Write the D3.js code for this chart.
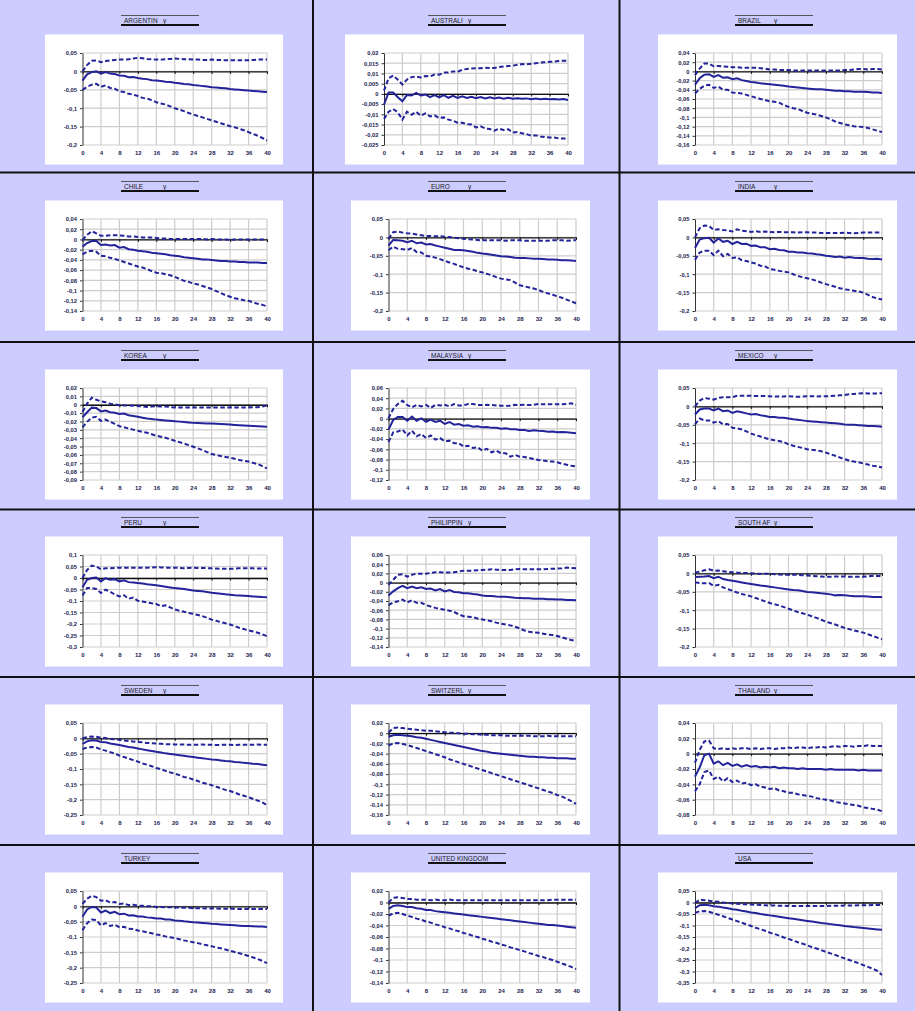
<!DOCTYPE html>
<html>
<head>
<meta charset="utf-8">
<script src="https://cdn.jsdelivr.net/npm/d3@7"></script>
<style>
  html, body { margin: 0; padding: 0; background: #ccccff; }
  svg { display: block; }
  .tick text { font-family: "Liberation Sans", Arial, sans-serif; }
</style>
</head>
<body>
<svg id="chart" width="915" height="1011"></svg>
<script>
// Impulse responses of output (y), horizons 0..40 quarters: median and 68% bands
const horizons = d3.range(0, 41);
const xTickValues = [0, 4, 8, 12, 16, 20, 24, 28, 32, 36, 40];

const countryNames = ["ARGENTIN", "AUSTRALI", "BRAZIL", "CHILE", "EURO", "INDIA",
  "KOREA", "MALAYSIA", "MEXICO", "PERU", "PHILIPPIN", "SOUTH AF",
  "SWEDEN", "SWITZERL", "THAILAND", "TURKEY", "UNITED KINGDOM", "USA"];
const variableLabels = ["y", "y", "y", "y", "y", "y", "y", "y", "y", "y", "y", "y",
  "y", "y", "y", "", "", ""];

// y-axis tick values per panel
const argentinaTicks = [0.05, 0, -0.05, -0.1, -0.15, -0.2];
const australiaTicks = [0.02, 0.015, 0.01, 0.005, 0, -0.005, -0.01, -0.015, -0.02, -0.025];
const brazilTicks = [0.04, 0.02, 0, -0.02, -0.04, -0.06, -0.08, -0.1, -0.12, -0.14, -0.16];
const chileTicks = [0.04, 0.02, 0, -0.02, -0.04, -0.06, -0.08, -0.1, -0.12, -0.14];
const euroTicks = [0.05, 0, -0.05, -0.1, -0.15, -0.2];
const indiaTicks = [0.05, 0, -0.05, -0.1, -0.15, -0.2];
const koreaTicks = [0.02, 0.01, 0, -0.01, -0.02, -0.03, -0.04, -0.05, -0.06, -0.07, -0.08, -0.09];
const malaysiaTicks = [0.06, 0.04, 0.02, 0, -0.02, -0.04, -0.06, -0.08, -0.1, -0.12];
const mexicoTicks = [0.05, 0, -0.05, -0.1, -0.15, -0.2];
const peruTicks = [0.1, 0.05, 0, -0.05, -0.1, -0.15, -0.2, -0.25, -0.3];
const philippinesTicks = [0.06, 0.04, 0.02, 0, -0.02, -0.04, -0.06, -0.08, -0.1, -0.12, -0.14];
const southAfricaTicks = [0.05, 0, -0.05, -0.1, -0.15, -0.2];
const swedenTicks = [0.05, 0, -0.05, -0.1, -0.15, -0.2, -0.25];
const switzerlandTicks = [0.02, 0, -0.02, -0.04, -0.06, -0.08, -0.1, -0.12, -0.14, -0.16];
const thailandTicks = [0.04, 0.02, 0, -0.02, -0.04, -0.06, -0.08];
const turkeyTicks = [0.05, 0, -0.05, -0.1, -0.15, -0.2, -0.25];
const ukTicks = [0.02, 0, -0.02, -0.04, -0.06, -0.08, -0.1, -0.12, -0.14];
const usaTicks = [0.05, 0, -0.05, -0.1, -0.15, -0.2, -0.25, -0.3, -0.35];

// ---- series ----
const argentinaMedian = [-0.025, -0.008, -0.002, 0.000, -0.006, -0.002, -0.006, -0.007, -0.011, -0.012,
  -0.016, -0.015, -0.018, -0.020, -0.021, -0.024, -0.025, -0.026, -0.028, -0.029,
  -0.031, -0.032, -0.034, -0.035, -0.037, -0.038, -0.040, -0.041, -0.043, -0.044,
  -0.045, -0.046, -0.048, -0.049, -0.050, -0.051, -0.052, -0.053, -0.054, -0.055, -0.056];
const argentinaUpper = [0.000, 0.017, 0.029, 0.030, 0.025, 0.028, 0.030, 0.031, 0.032, 0.032,
  0.033, 0.035, 0.037, 0.036, 0.034, 0.033, 0.032, 0.032, 0.033, 0.034,
  0.035, 0.034, 0.033, 0.033, 0.032, 0.032, 0.031, 0.031, 0.032, 0.031,
  0.031, 0.030, 0.030, 0.030, 0.030, 0.030, 0.030, 0.031, 0.032, 0.032, 0.032];
const argentinaLower = [-0.050, -0.042, -0.036, -0.034, -0.042, -0.038, -0.045, -0.047, -0.054, -0.056,
  -0.061, -0.063, -0.067, -0.072, -0.074, -0.078, -0.084, -0.087, -0.090, -0.095,
  -0.100, -0.104, -0.108, -0.113, -0.117, -0.121, -0.125, -0.129, -0.133, -0.137,
  -0.141, -0.145, -0.149, -0.152, -0.156, -0.160, -0.165, -0.170, -0.175, -0.181, -0.188];

const australiaMedian = [-0.0052, 0.0007, 0.0007, -0.0016, -0.0036, -0.0005, -0.0008, 0.0005, -0.0008, -0.0003,
  -0.0016, -0.0006, -0.0017, -0.0006, -0.0019, -0.0010, -0.0020, -0.0012, -0.0020, -0.0014,
  -0.0021, -0.0015, -0.0022, -0.0017, -0.0023, -0.0018, -0.0024, -0.0019, -0.0024, -0.0021,
  -0.0024, -0.0022, -0.0026, -0.0023, -0.0026, -0.0024, -0.0026, -0.0025, -0.0027, -0.0025, -0.0030];
const australiaUpper = [0.0016, 0.0077, 0.0090, 0.0069, 0.0046, 0.0070, 0.0082, 0.0085, 0.0080, 0.0087,
  0.0085, 0.0095, 0.0094, 0.0104, 0.0105, 0.0110, 0.0108, 0.0118, 0.0122, 0.0124,
  0.0126, 0.0126, 0.0128, 0.0127, 0.0127, 0.0131, 0.0134, 0.0136, 0.0138, 0.0142,
  0.0146, 0.0145, 0.0147, 0.0150, 0.0153, 0.0155, 0.0157, 0.0158, 0.0161, 0.0162, 0.0162];
const australiaLower = [-0.0123, -0.0087, -0.0074, -0.0090, -0.0126, -0.0087, -0.0102, -0.0087, -0.0107, -0.0095,
  -0.0110, -0.0105, -0.0118, -0.0115, -0.0126, -0.0131, -0.0141, -0.0141, -0.0148, -0.0150,
  -0.0164, -0.0159, -0.0169, -0.0172, -0.0180, -0.0170, -0.0177, -0.0173, -0.0189, -0.0186,
  -0.0193, -0.0197, -0.0205, -0.0203, -0.0208, -0.0211, -0.0213, -0.0213, -0.0218, -0.0218, -0.0218];

const brazilMedian = [-0.029, -0.015, -0.007, -0.006, -0.012, -0.008, -0.014, -0.013, -0.017, -0.015,
  -0.019, -0.021, -0.023, -0.024, -0.026, -0.027, -0.028, -0.029, -0.030, -0.031,
  -0.033, -0.034, -0.035, -0.036, -0.037, -0.038, -0.039, -0.039, -0.040, -0.041,
  -0.042, -0.042, -0.043, -0.043, -0.044, -0.044, -0.044, -0.045, -0.046, -0.046, -0.047];
const brazilUpper = [-0.008, 0.006, 0.017, 0.017, 0.011, 0.012, 0.011, 0.010, 0.009, 0.009,
  0.008, 0.008, 0.008, 0.008, 0.007, 0.006, 0.004, 0.004, 0.003, 0.003,
  0.003, 0.002, 0.002, 0.002, 0.002, 0.002, 0.002, 0.002, 0.002, 0.002,
  0.002, 0.002, 0.003, 0.003, 0.004, 0.005, 0.005, 0.004, 0.005, 0.005, 0.004];
const brazilLower = [-0.048, -0.038, -0.031, -0.029, -0.036, -0.033, -0.040, -0.040, -0.046, -0.047,
  -0.048, -0.051, -0.054, -0.057, -0.060, -0.062, -0.065, -0.066, -0.068, -0.073,
  -0.077, -0.080, -0.082, -0.086, -0.090, -0.092, -0.094, -0.097, -0.100, -0.104,
  -0.109, -0.112, -0.115, -0.117, -0.119, -0.120, -0.121, -0.123, -0.126, -0.129, -0.132];

const chileMedian = [-0.014, -0.007, -0.003, -0.003, -0.011, -0.010, -0.012, -0.011, -0.016, -0.015,
  -0.019, -0.020, -0.022, -0.023, -0.024, -0.026, -0.027, -0.028, -0.029, -0.031,
  -0.032, -0.033, -0.035, -0.036, -0.037, -0.038, -0.039, -0.039, -0.040, -0.041,
  -0.042, -0.042, -0.043, -0.043, -0.044, -0.044, -0.045, -0.045, -0.045, -0.046, -0.046];
const chileUpper = [-0.001, 0.009, 0.016, 0.012, 0.007, 0.007, 0.008, 0.008, 0.008, 0.007,
  0.006, 0.006, 0.005, 0.004, 0.004, 0.004, 0.003, 0.002, 0.002, 0.001,
  0.001, 0.001, 0.001, 0.001, 0.001, 0.001, 0.001, 0.000, 0.001, 0.000,
  0.000, 0.000, -0.001, 0.000, 0.000, 0.000, 0.000, 0.000, 0.000, 0.000, 0.000];
const chileLower = [-0.029, -0.024, -0.022, -0.024, -0.032, -0.033, -0.036, -0.038, -0.041, -0.044,
  -0.047, -0.050, -0.053, -0.055, -0.058, -0.062, -0.065, -0.066, -0.068, -0.070,
  -0.073, -0.077, -0.081, -0.083, -0.086, -0.088, -0.091, -0.094, -0.097, -0.101,
  -0.105, -0.109, -0.112, -0.115, -0.117, -0.119, -0.120, -0.123, -0.126, -0.128, -0.131];

const euroMedian = [-0.022, -0.007, -0.008, -0.009, -0.013, -0.009, -0.016, -0.014, -0.019, -0.018,
  -0.022, -0.025, -0.028, -0.031, -0.034, -0.034, -0.035, -0.037, -0.039, -0.042,
  -0.044, -0.045, -0.047, -0.049, -0.051, -0.052, -0.053, -0.055, -0.056, -0.056,
  -0.057, -0.058, -0.058, -0.059, -0.060, -0.060, -0.061, -0.062, -0.062, -0.063, -0.064];
const euroUpper = [-0.004, 0.014, 0.016, 0.013, 0.011, 0.010, 0.008, 0.006, 0.004, 0.004,
  0.003, 0.003, 0.002, 0.001, -0.001, -0.002, -0.004, -0.005, -0.006, -0.007,
  -0.008, -0.008, -0.008, -0.008, -0.008, -0.009, -0.008, -0.008, -0.008, -0.009,
  -0.009, -0.009, -0.009, -0.009, -0.009, -0.008, -0.008, -0.008, -0.009, -0.008, -0.008];
const euroLower = [-0.035, -0.025, -0.031, -0.032, -0.034, -0.029, -0.040, -0.041, -0.050, -0.052,
  -0.055, -0.059, -0.064, -0.068, -0.072, -0.077, -0.081, -0.085, -0.088, -0.092,
  -0.095, -0.099, -0.103, -0.108, -0.112, -0.114, -0.116, -0.123, -0.130, -0.133,
  -0.136, -0.139, -0.143, -0.148, -0.152, -0.156, -0.160, -0.164, -0.169, -0.174, -0.179];

const indiaMedian = [-0.029, -0.006, -0.002, -0.001, -0.014, -0.003, -0.012, -0.009, -0.018, -0.012,
  -0.018, -0.017, -0.023, -0.022, -0.027, -0.027, -0.032, -0.031, -0.034, -0.035,
  -0.039, -0.039, -0.041, -0.041, -0.043, -0.044, -0.046, -0.047, -0.050, -0.051,
  -0.053, -0.052, -0.055, -0.053, -0.055, -0.056, -0.056, -0.058, -0.059, -0.058, -0.060];
const indiaUpper = [0.000, 0.025, 0.032, 0.031, 0.020, 0.022, 0.020, 0.019, 0.016, 0.022,
  0.018, 0.017, 0.015, 0.017, 0.015, 0.016, 0.015, 0.014, 0.015, 0.014,
  0.014, 0.014, 0.013, 0.014, 0.014, 0.013, 0.013, 0.012, 0.012, 0.012,
  0.012, 0.012, 0.013, 0.012, 0.011, 0.012, 0.013, 0.013, 0.013, 0.013, 0.013];
const indiaLower = [-0.061, -0.041, -0.036, -0.036, -0.048, -0.036, -0.051, -0.045, -0.056, -0.054,
  -0.062, -0.064, -0.068, -0.071, -0.077, -0.079, -0.086, -0.088, -0.091, -0.093,
  -0.095, -0.100, -0.105, -0.108, -0.111, -0.114, -0.118, -0.123, -0.127, -0.131,
  -0.134, -0.138, -0.141, -0.143, -0.145, -0.147, -0.150, -0.156, -0.162, -0.166, -0.169];

const koreaMedian = [-0.015, -0.009, -0.0035, -0.004, -0.008, -0.007, -0.009, -0.0095, -0.011, -0.0105,
  -0.0125, -0.0135, -0.0145, -0.0155, -0.0165, -0.017, -0.0178, -0.0183, -0.0188, -0.0192,
  -0.0197, -0.0202, -0.0207, -0.0212, -0.0217, -0.0219, -0.0221, -0.0223, -0.0225, -0.0228,
  -0.0231, -0.0234, -0.0237, -0.0241, -0.0245, -0.0249, -0.0252, -0.0255, -0.0258, -0.0261, -0.0264];
const koreaUpper = [-0.0086, 0.0013, 0.0085, 0.006, 0.004, 0.003, 0.0013, 0.0004, -0.0006, -0.0008,
  -0.001, -0.0012, -0.0014, -0.002, -0.0026, -0.0022, -0.0018, -0.002, -0.002, -0.0028,
  -0.0034, -0.0034, -0.0034, -0.0034, -0.0034, -0.0034, -0.0034, -0.0034, -0.0034, -0.0034,
  -0.0034, -0.0034, -0.0034, -0.0034, -0.0034, -0.0034, -0.0034, -0.003, -0.003, -0.002, -0.001];
const koreaLower = [-0.027, -0.0205, -0.0153, -0.0145, -0.0193, -0.0177, -0.0205, -0.023, -0.0256, -0.027,
  -0.0284, -0.0298, -0.0312, -0.0324, -0.0336, -0.0353, -0.0371, -0.0383, -0.0395, -0.0413,
  -0.0431, -0.0447, -0.0463, -0.0483, -0.0502, -0.0522, -0.0542, -0.0566, -0.059, -0.0602,
  -0.0614, -0.0624, -0.0634, -0.0647, -0.066, -0.067, -0.068, -0.0695, -0.071, -0.0735, -0.076];

const malaysiaMedian = [-0.0215, -0.0026, 0.0033, 0.0033, -0.004, 0.004, -0.004, 0.0007, -0.006, -0.002,
  -0.0065, -0.004, -0.0104, -0.0065, -0.0117, -0.0105, -0.0137, -0.0128, -0.0156, -0.0150,
  -0.017, -0.0165, -0.018, -0.0178, -0.0195, -0.019, -0.0205, -0.0205, -0.022, -0.022,
  -0.024, -0.0225, -0.0235, -0.024, -0.0254, -0.025, -0.0267, -0.026, -0.0265, -0.0275, -0.0287];
const malaysiaUpper = [0.0007, 0.019, 0.0287, 0.035, 0.0267, 0.022, 0.027, 0.024, 0.027, 0.021,
  0.027, 0.026, 0.027, 0.024, 0.0287, 0.026, 0.026, 0.0287, 0.0287, 0.027,
  0.0267, 0.027, 0.0267, 0.026, 0.0254, 0.025, 0.0254, 0.027, 0.0267, 0.027,
  0.0267, 0.027, 0.0287, 0.028, 0.028, 0.028, 0.028, 0.028, 0.0287, 0.030, 0.0267];
const malaysiaLower = [-0.046, -0.027, -0.025, -0.0215, -0.033, -0.0235, -0.0345, -0.030, -0.0378, -0.033,
  -0.041, -0.038, -0.0443, -0.043, -0.048, -0.048, -0.0547, -0.053, -0.0573, -0.056,
  -0.0625, -0.059, -0.0658, -0.0625, -0.0677, -0.0677, -0.0743, -0.071, -0.0743, -0.075,
  -0.0769, -0.079, -0.0808, -0.082, -0.0834, -0.084, -0.0853, -0.088, -0.090, -0.092, -0.0932];

const mexicoMedian = [-0.022, -0.0085, -0.006, -0.006, -0.011, -0.006, -0.013, -0.011, -0.0175, -0.013,
  -0.016, -0.019, -0.022, -0.021, -0.024, -0.026, -0.029, -0.029, -0.031, -0.031,
  -0.033, -0.035, -0.036, -0.038, -0.040, -0.041, -0.042, -0.043, -0.044, -0.045,
  -0.046, -0.047, -0.049, -0.050, -0.050, -0.051, -0.052, -0.053, -0.053, -0.054, -0.055];
const mexicoUpper = [0.000, 0.016, 0.023, 0.021, 0.0185, 0.023, 0.025, 0.025, 0.025, 0.029,
  0.029, 0.029, 0.029, 0.028, 0.028, 0.028, 0.0275, 0.027, 0.027, 0.027,
  0.0275, 0.027, 0.026, 0.027, 0.0275, 0.0275, 0.027, 0.0275, 0.0275, 0.028,
  0.029, 0.030, 0.031, 0.033, 0.034, 0.035, 0.036, 0.035, 0.035, 0.035, 0.036];
const mexicoLower = [-0.049, -0.033, -0.038, -0.038, -0.044, -0.040, -0.049, -0.048, -0.058, -0.060,
  -0.0625, -0.068, -0.074, -0.078, -0.082, -0.086, -0.0895, -0.092, -0.094, -0.097,
  -0.103, -0.107, -0.110, -0.113, -0.1165, -0.118, -0.119, -0.122, -0.1255, -0.130,
  -0.134, -0.139, -0.1435, -0.147, -0.150, -0.152, -0.155, -0.158, -0.161, -0.163, -0.166];

const peruMedian = [-0.040, -0.008, 0.000, 0.002, -0.015, -0.001, -0.008, -0.005, -0.015, -0.010,
  -0.018, -0.020, -0.022, -0.024, -0.027, -0.029, -0.032, -0.035, -0.038, -0.041,
  -0.044, -0.046, -0.048, -0.051, -0.054, -0.056, -0.058, -0.061, -0.064, -0.066,
  -0.068, -0.071, -0.073, -0.075, -0.076, -0.077, -0.078, -0.080, -0.081, -0.083, -0.084];
const peruUpper = [0.000, 0.035, 0.054, 0.050, 0.038, 0.042, 0.042, 0.044, 0.045, 0.045,
  0.045, 0.045, 0.045, 0.045, 0.045, 0.046, 0.047, 0.046, 0.045, 0.045,
  0.045, 0.044, 0.042, 0.044, 0.045, 0.044, 0.043, 0.043, 0.042, 0.041,
  0.040, 0.040, 0.040, 0.041, 0.042, 0.042, 0.042, 0.042, 0.041, 0.041, 0.041];
const peruLower = [-0.076, -0.044, -0.044, -0.048, -0.065, -0.051, -0.060, -0.072, -0.080, -0.075,
  -0.090, -0.085, -0.099, -0.102, -0.106, -0.110, -0.113, -0.123, -0.119, -0.128,
  -0.137, -0.142, -0.147, -0.152, -0.156, -0.161, -0.166, -0.173, -0.181, -0.186,
  -0.192, -0.197, -0.202, -0.209, -0.217, -0.222, -0.228, -0.233, -0.238, -0.245, -0.253];

const philippinesMedian = [-0.028, -0.019, -0.012, -0.007, -0.012, -0.0085, -0.012, -0.010, -0.014, -0.013,
  -0.017, -0.014, -0.019, -0.016, -0.0205, -0.021, -0.023, -0.023, -0.025, -0.026,
  -0.028, -0.029, -0.029, -0.030, -0.0305, -0.031, -0.032, -0.033, -0.0335, -0.034,
  -0.034, -0.035, -0.035, -0.035, -0.036, -0.036, -0.0365, -0.037, -0.038, -0.038, -0.0385];
const philippinesUpper = [-0.005, 0.006, 0.017, 0.018, 0.013, 0.017, 0.0195, 0.0195, 0.0195, 0.021,
  0.0225, 0.0225, 0.022, 0.022, 0.0225, 0.024, 0.026, 0.026, 0.026, 0.027,
  0.0275, 0.028, 0.029, 0.028, 0.0275, 0.0275, 0.0275, 0.029, 0.0297, 0.029,
  0.029, 0.029, 0.029, 0.029, 0.0297, 0.030, 0.0305, 0.031, 0.0327, 0.032, 0.031];
const philippinesLower = [-0.049, -0.043, -0.0407, -0.037, -0.043, -0.0385, -0.044, -0.044, -0.049, -0.052,
  -0.055, -0.057, -0.059, -0.061, -0.064, -0.069, -0.073, -0.074, -0.075, -0.078,
  -0.080, -0.082, -0.084, -0.087, -0.0896, -0.091, -0.093, -0.096, -0.0997, -0.104,
  -0.107, -0.108, -0.109, -0.111, -0.113, -0.114, -0.116, -0.119, -0.122, -0.125, -0.127];

const southAfricaMedian = [-0.010, -0.009, -0.0085, -0.007, -0.013, -0.009, -0.0155, -0.018, -0.020, -0.022,
  -0.0245, -0.027, -0.029, -0.031, -0.033, -0.0345, -0.036, -0.038, -0.040, -0.042,
  -0.0435, -0.045, -0.046, -0.048, -0.0505, -0.0515, -0.0525, -0.054, -0.055, -0.057,
  -0.0597, -0.059, -0.0597, -0.061, -0.062, -0.062, -0.062, -0.063, -0.064, -0.064, -0.064];
const southAfricaUpper = [0.002, 0.005, 0.0085, 0.011, 0.007, 0.008, 0.006, 0.004, 0.003, 0.002,
  0.0015, 0.001, 0.0005, -0.0005, -0.0013, -0.001, -0.001, -0.002, -0.003, -0.0035,
  -0.004, -0.004, -0.004, -0.005, -0.0058, -0.0065, -0.0075, -0.0085, -0.0094, -0.009,
  -0.0085, -0.0085, -0.0085, -0.009, -0.009, -0.009, -0.009, -0.008, -0.0067, -0.007, -0.0075];
const southAfricaLower = [-0.024, -0.026, -0.027, -0.026, -0.034, -0.031, -0.038, -0.043, -0.047, -0.052,
  -0.056, -0.059, -0.0625, -0.067, -0.0715, -0.076, -0.0805, -0.084, -0.087, -0.0915,
  -0.096, -0.1005, -0.105, -0.1085, -0.112, -0.1165, -0.121, -0.126, -0.1315, -0.135,
  -0.139, -0.1435, -0.148, -0.1515, -0.155, -0.158, -0.161, -0.1655, -0.170, -0.1745, -0.179];

const swedenMedian = [-0.018, -0.010, -0.006, -0.007, -0.012, -0.013, -0.017, -0.019, -0.022, -0.025,
  -0.028, -0.030, -0.033, -0.036, -0.039, -0.041, -0.044, -0.046, -0.049, -0.051,
  -0.053, -0.055, -0.057, -0.059, -0.061, -0.063, -0.065, -0.067, -0.069, -0.070,
  -0.072, -0.074, -0.075, -0.077, -0.078, -0.080, -0.081, -0.083, -0.084, -0.086, -0.088];
const swedenUpper = [0.000, 0.004, 0.006, 0.005, 0.002, 0.001, -0.002, -0.003, -0.005, -0.007,
  -0.009, -0.010, -0.012, -0.013, -0.015, -0.016, -0.017, -0.018, -0.019, -0.019,
  -0.020, -0.020, -0.020, -0.021, -0.021, -0.021, -0.020, -0.021, -0.021, -0.022,
  -0.021, -0.021, -0.021, -0.022, -0.021, -0.021, -0.021, -0.021, -0.020, -0.021, -0.021];
const swedenLower = [-0.035, -0.030, -0.028, -0.030, -0.036, -0.040, -0.045, -0.050, -0.056, -0.061,
  -0.066, -0.071, -0.076, -0.082, -0.086, -0.091, -0.097, -0.101, -0.106, -0.111,
  -0.115, -0.120, -0.126, -0.129, -0.134, -0.139, -0.145, -0.148, -0.153, -0.158,
  -0.163, -0.168, -0.172, -0.177, -0.183, -0.187, -0.192, -0.198, -0.203, -0.209, -0.218];

const switzerlandMedian = [-0.007, -0.004, -0.003, -0.004, -0.005, -0.006, -0.008, -0.009, -0.011, -0.013,
  -0.015, -0.017, -0.019, -0.021, -0.023, -0.025, -0.027, -0.029, -0.031, -0.033,
  -0.035, -0.036, -0.038, -0.039, -0.040, -0.041, -0.042, -0.043, -0.044, -0.045,
  -0.046, -0.046, -0.047, -0.047, -0.048, -0.048, -0.049, -0.049, -0.049, -0.050, -0.050];
const switzerlandUpper = [0.001, 0.010, 0.011, 0.010, 0.009, 0.008, 0.007, 0.006, 0.005, 0.005,
  0.004, 0.003, 0.002, 0.001, 0.001, 0.000, -0.001, -0.001, -0.002, -0.002,
  -0.003, -0.003, -0.004, -0.004, -0.004, -0.005, -0.005, -0.005, -0.005, -0.005,
  -0.005, -0.006, -0.006, -0.006, -0.005, -0.006, -0.006, -0.006, -0.006, -0.006, -0.006];
const switzerlandLower = [-0.024, -0.020, -0.019, -0.021, -0.023, -0.026, -0.029, -0.032, -0.035, -0.038,
  -0.041, -0.044, -0.047, -0.051, -0.054, -0.057, -0.060, -0.063, -0.066, -0.069,
  -0.072, -0.075, -0.078, -0.081, -0.084, -0.087, -0.090, -0.093, -0.096, -0.099,
  -0.102, -0.105, -0.108, -0.111, -0.114, -0.117, -0.121, -0.124, -0.128, -0.133, -0.138];

const thailandMedian = [-0.030, -0.018, -0.002, 0.000, -0.013, -0.010, -0.015, -0.012, -0.016, -0.014,
  -0.017, -0.015, -0.017, -0.016, -0.018, -0.017, -0.018, -0.017, -0.019, -0.018,
  -0.019, -0.019, -0.020, -0.019, -0.020, -0.020, -0.020, -0.020, -0.021, -0.020,
  -0.021, -0.021, -0.021, -0.021, -0.021, -0.022, -0.021, -0.022, -0.022, -0.022, -0.022];
const thailandUpper = [-0.012, 0.005, 0.016, 0.017, 0.007, 0.006, 0.007, 0.006, 0.007, 0.006,
  0.007, 0.007, 0.006, 0.007, 0.006, 0.007, 0.007, 0.006, 0.007, 0.007,
  0.008, 0.007, 0.008, 0.008, 0.007, 0.008, 0.008, 0.009, 0.008, 0.009,
  0.010, 0.009, 0.010, 0.010, 0.009, 0.010, 0.010, 0.011, 0.010, 0.010, 0.010];
const thailandLower = [-0.049, -0.040, -0.024, -0.022, -0.033, -0.030, -0.036, -0.032, -0.037, -0.035,
  -0.039, -0.038, -0.041, -0.040, -0.043, -0.044, -0.046, -0.045, -0.048, -0.049,
  -0.051, -0.051, -0.053, -0.054, -0.055, -0.056, -0.058, -0.059, -0.060, -0.061,
  -0.063, -0.064, -0.065, -0.066, -0.067, -0.068, -0.070, -0.071, -0.072, -0.073, -0.075];

const turkeyMedian = [-0.034, -0.010, -0.002, -0.004, -0.020, -0.014, -0.022, -0.018, -0.026, -0.024,
  -0.030, -0.029, -0.033, -0.033, -0.036, -0.037, -0.040, -0.040, -0.043, -0.043,
  -0.046, -0.047, -0.049, -0.050, -0.052, -0.053, -0.054, -0.055, -0.057, -0.058,
  -0.059, -0.060, -0.061, -0.062, -0.063, -0.064, -0.064, -0.065, -0.066, -0.066, -0.067];
const turkeyUpper = [0.008, 0.025, 0.034, 0.030, 0.018, 0.020, 0.012, 0.014, 0.008, 0.009,
  0.004, 0.005, 0.002, 0.002, 0.000, 0.000, -0.002, -0.002, -0.003, -0.003,
  -0.004, -0.004, -0.005, -0.005, -0.006, -0.006, -0.006, -0.007, -0.007, -0.007,
  -0.008, -0.008, -0.008, -0.008, -0.009, -0.009, -0.009, -0.009, -0.009, -0.009, -0.009];
const turkeyLower = [-0.078, -0.055, -0.043, -0.045, -0.062, -0.055, -0.064, -0.060, -0.068, -0.067,
  -0.073, -0.074, -0.079, -0.081, -0.085, -0.088, -0.092, -0.094, -0.098, -0.101,
  -0.104, -0.107, -0.111, -0.114, -0.117, -0.120, -0.124, -0.127, -0.130, -0.134,
  -0.137, -0.141, -0.145, -0.149, -0.153, -0.157, -0.162, -0.167, -0.172, -0.178, -0.185];

const ukMedian = [-0.011, -0.006, -0.005, -0.006, -0.008, -0.008, -0.010, -0.011, -0.013, -0.013,
  -0.015, -0.016, -0.017, -0.018, -0.019, -0.020, -0.021, -0.022, -0.023, -0.024,
  -0.025, -0.026, -0.027, -0.028, -0.029, -0.030, -0.031, -0.032, -0.033, -0.034,
  -0.035, -0.036, -0.037, -0.038, -0.039, -0.039, -0.040, -0.041, -0.042, -0.043, -0.044];
const ukUpper = [0.000, 0.008, 0.009, 0.008, 0.006, 0.006, 0.005, 0.005, 0.005, 0.004,
  0.005, 0.004, 0.004, 0.005, 0.004, 0.004, 0.004, 0.004, 0.004, 0.004,
  0.004, 0.004, 0.004, 0.004, 0.004, 0.004, 0.004, 0.004, 0.004, 0.004,
  0.004, 0.004, 0.004, 0.004, 0.004, 0.005, 0.005, 0.005, 0.005, 0.005, 0.005];
const ukLower = [-0.023, -0.019, -0.018, -0.020, -0.023, -0.025, -0.028, -0.030, -0.033, -0.035,
  -0.038, -0.040, -0.043, -0.045, -0.048, -0.050, -0.053, -0.055, -0.058, -0.060,
  -0.063, -0.065, -0.068, -0.070, -0.073, -0.075, -0.078, -0.080, -0.083, -0.085,
  -0.088, -0.090, -0.093, -0.095, -0.098, -0.100, -0.103, -0.106, -0.109, -0.112, -0.116];

const usaMedian = [-0.024, -0.012, -0.010, -0.012, -0.016, -0.018, -0.022, -0.025, -0.029, -0.032,
  -0.036, -0.039, -0.043, -0.046, -0.050, -0.053, -0.056, -0.059, -0.062, -0.065,
  -0.068, -0.071, -0.074, -0.077, -0.080, -0.083, -0.086, -0.089, -0.091, -0.094,
  -0.097, -0.099, -0.102, -0.104, -0.107, -0.109, -0.111, -0.113, -0.115, -0.117, -0.119];
const usaUpper = [-0.002, 0.012, 0.010, 0.008, 0.005, 0.003, 0.000, -0.002, -0.004, -0.005,
  -0.007, -0.008, -0.009, -0.010, -0.011, -0.012, -0.013, -0.013, -0.014, -0.014,
  -0.015, -0.015, -0.015, -0.015, -0.015, -0.015, -0.015, -0.015, -0.015, -0.014,
  -0.014, -0.014, -0.013, -0.013, -0.013, -0.012, -0.012, -0.012, -0.011, -0.011, -0.011];
const usaLower = [-0.045, -0.038, -0.037, -0.040, -0.047, -0.053, -0.060, -0.067, -0.074, -0.081,
  -0.088, -0.095, -0.102, -0.110, -0.116, -0.123, -0.131, -0.137, -0.144, -0.152,
  -0.158, -0.165, -0.173, -0.179, -0.186, -0.194, -0.200, -0.207, -0.215, -0.221,
  -0.228, -0.236, -0.243, -0.250, -0.257, -0.264, -0.272, -0.280, -0.288, -0.297, -0.315];

// ---- panel table assembled from the arrays above ----
const panels = [
  [argentinaTicks, argentinaMedian, argentinaUpper, argentinaLower],
  [australiaTicks, australiaMedian, australiaUpper, australiaLower],
  [brazilTicks, brazilMedian, brazilUpper, brazilLower],
  [chileTicks, chileMedian, chileUpper, chileLower],
  [euroTicks, euroMedian, euroUpper, euroLower],
  [indiaTicks, indiaMedian, indiaUpper, indiaLower],
  [koreaTicks, koreaMedian, koreaUpper, koreaLower],
  [malaysiaTicks, malaysiaMedian, malaysiaUpper, malaysiaLower],
  [mexicoTicks, mexicoMedian, mexicoUpper, mexicoLower],
  [peruTicks, peruMedian, peruUpper, peruLower],
  [philippinesTicks, philippinesMedian, philippinesUpper, philippinesLower],
  [southAfricaTicks, southAfricaMedian, southAfricaUpper, southAfricaLower],
  [swedenTicks, swedenMedian, swedenUpper, swedenLower],
  [switzerlandTicks, switzerlandMedian, switzerlandUpper, switzerlandLower],
  [thailandTicks, thailandMedian, thailandUpper, thailandLower],
  [turkeyTicks, turkeyMedian, turkeyUpper, turkeyLower],
  [ukTicks, ukMedian, ukUpper, ukLower],
  [usaTicks, usaMedian, usaUpper, usaLower]
].map(([ticks, median, upper, lower], i) => ({
  name: countryNames[i], variable: variableLabels[i], ticks, median, upper, lower
}));

// ---- layout ----
const W = 915, H = 1011;
const rowTops = [7, 173, 342, 509, 677, 845];
const dividerRows = [172.5, 342, 509.5, 677, 845];
const dividerCols = [313, 619.5];
const columns = [
  { boxL: 45,  boxR: 283, plotL: 82.5,  plotR: 267,   titleL: 121, varDx: 42 },
  { boxL: 351, boxR: 590, plotL: 388.5, plotR: 576,   titleL: 428, varDx: 40 },
  { boxL: 658, boxR: 897, plotL: 695,   plotR: 882,   titleL: 735, varDx: 39 }
];
// the second panel's chart area sits a little further left
const panelShift = { 1: { boxL: 345, boxR: 584, plotL: 384, plotR: 568 } };
const BOX_TOP = 27.5, BOX_BOTTOM = 157.5, PLOT_TOP = 46, PLOT_BOTTOM = 138;
const INK = "#23239a";
const LABEL = "#1c1c50";
const FONT = "'Liberation Sans', Arial, sans-serif";
const TITLE_SIZE = 6.5;

const fmt = v => v === 0 ? "0" : String(+v.toFixed(4)).replace(".", ",");

const svg = d3.select("#chart");
svg.append("rect").attr("width", W).attr("height", H).attr("fill", "#ccccff");

// cell dividers
svg.append("g").selectAll("line").data(dividerRows).join("line")
  .attr("x1", 0).attr("x2", W).attr("y1", d => d).attr("y2", d => d)
  .attr("stroke", "#111").attr("stroke-width", 2);
svg.append("g").selectAll("line").data(dividerCols).join("line")
  .attr("x1", d => d).attr("x2", d => d).attr("y1", 0).attr("y2", H)
  .attr("stroke", "#111").attr("stroke-width", 2);

panels.forEach((p, i) => {
  const col = Object.assign({}, columns[i % 3], panelShift[i] || {});
  const top = rowTops[Math.floor(i / 3)];
  const g = svg.append("g");

  // title cell with its border lines
  const tL = col.titleL, tW = 78;
  g.append("line").attr("x1", tL).attr("x2", tL + tW)
    .attr("y1", top + 8.5).attr("y2", top + 8.5)
    .attr("stroke", "#555").attr("stroke-width", 1);
  g.append("line").attr("x1", tL).attr("x2", tL + tW)
    .attr("y1", top + 18).attr("y2", top + 18)
    .attr("stroke", "#111").attr("stroke-width", 2);
  g.append("text").attr("x", tL + 3).attr("y", top + 16)
    .attr("font-family", FONT).attr("font-size", TITLE_SIZE).attr("fill", "#222")
    .text(p.name);
  if (p.variable) {
    g.append("text").attr("x", tL + col.varDx).attr("y", top + 16)
      .attr("font-family", FONT).attr("font-size", TITLE_SIZE).attr("fill", "#222")
      .text(p.variable);
  }

  // white chart area
  g.append("rect").attr("x", col.boxL).attr("y", top + BOX_TOP)
    .attr("width", col.boxR - col.boxL).attr("height", BOX_BOTTOM - BOX_TOP)
    .attr("fill", "#ffffff");

  const x = d3.scaleLinear().domain([0, 40]).range([col.plotL, col.plotR]);
  const y = d3.scaleLinear().domain(d3.extent(p.ticks)).range([top + PLOT_BOTTOM, top + PLOT_TOP]);

  // gridlines
  g.append("g").selectAll("line").data(p.ticks).join("line")
    .attr("x1", col.plotL).attr("x2", col.plotR)
    .attr("y1", d => y(d)).attr("y2", d => y(d))
    .attr("stroke", "#cdcdcd").attr("stroke-width", 1.2);
  g.append("g").selectAll("line").data(xTickValues.slice(1)).join("line")
    .attr("x1", d => x(d)).attr("x2", d => x(d))
    .attr("y1", top + PLOT_TOP).attr("y2", top + PLOT_BOTTOM)
    .attr("stroke", "#cdcdcd").attr("stroke-width", 1.2);

  // y axis
  const yAxis = g.append("g").attr("transform", `translate(${col.plotL},0)`)
    .call(d3.axisLeft(y).tickValues(p.ticks).tickFormat(fmt).tickSize(2.5).tickSizeOuter(0).tickPadding(3));
  yAxis.select(".domain").attr("stroke", "#333").attr("stroke-width", 1);
  yAxis.selectAll(".tick line").attr("stroke", "#333");
  yAxis.selectAll(".tick text").attr("font-size", 5.8).attr("font-weight", "bold").attr("fill", LABEL);

  // horizontal axis crossing at zero, with tick marks
  const zeroAxis = g.append("g").attr("transform", `translate(0,${y(0)})`)
    .call(d3.axisBottom(x).tickValues(xTickValues).tickFormat("").tickSize(2.5).tickSizeOuter(0));
  zeroAxis.select(".domain").attr("stroke", "#111").attr("stroke-width", 1.3);
  zeroAxis.selectAll(".tick line").attr("stroke", "#111");

  // category labels along the bottom
  const xAxis = g.append("g").attr("transform", `translate(0,${top + PLOT_BOTTOM})`)
    .call(d3.axisBottom(x).tickValues(xTickValues).tickSize(0).tickPadding(6));
  xAxis.select(".domain").remove();
  xAxis.selectAll(".tick text").attr("font-size", 6).attr("font-weight", "bold").attr("fill", LABEL);

  // response lines
  const line = d3.line().x((d, h) => x(horizons[h])).y(d => y(d));
  g.append("path").datum(p.upper).attr("d", line)
    .attr("fill", "none").attr("stroke", INK).attr("stroke-width", 2)
    .attr("stroke-dasharray", "4.5,2.5");
  g.append("path").datum(p.lower).attr("d", line)
    .attr("fill", "none").attr("stroke", INK).attr("stroke-width", 2)
    .attr("stroke-dasharray", "4.5,2.5");
  g.append("path").datum(p.median).attr("d", line)
    .attr("fill", "none").attr("stroke", INK).attr("stroke-width", 2);
});
</script>
</body>
</html>
